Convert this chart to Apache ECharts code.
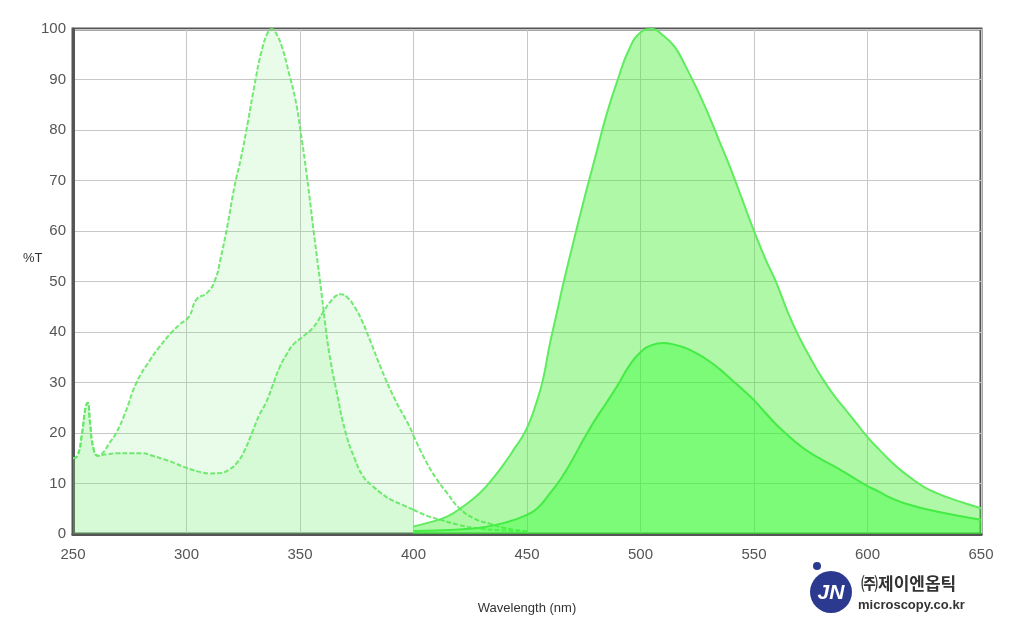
<!DOCTYPE html>
<html>
<head>
<meta charset="utf-8">
<style>html,body{margin:0;padding:0;background:#fff;}#c{width:1024px;height:622px;}</style>
<script src="https://cdn.jsdelivr.net/npm/echarts@6/dist/echarts.min.js"></script>
</head>
<body>
<div id="c"></div>
<script>
// Excitation spectrum 1 (peak ~337 nm)
var excitation1 = [[250,15],[252,15.5],[254,20],[255.5,25],[256.5,26],[257.5,22],[259,17],[261,15.5],[263,16],[266,18],[269,20],[273,24],[278,30],[284,34.5],[288,37],[293,39.7],[297,41.5],[301,43],[304.5,46.5],[309,47.7],[312.6,50.3],[315,54.5],[318,61],[321,68.5],[324,74.5],[327,81.5],[330,89],[333,95.5],[336,99.5],[337.5,100],[339,99.5],[342,96.5],[345,91.5],[348,86],[350,80.5],[353,71],[356,60],[359,49.5],[361,42],[363,35.5],[366,28.5],[370,20.3],[374,15],[378,11.3],[382,9.5],[386,8],[390,6.8],[395,5.8],[400,4.8],[406,3.6],[412,2.8],[420,1.8],[429,1.1],[440,0.7],[450,0.5]];
// Excitation spectrum 2 (peak ~367 nm)
var excitation2 = [[250,15],[252,15.5],[254,20],[255.5,25],[256.5,26],[257.5,22],[259,17],[261,15.5],[265,15.8],[270,16],[275,16],[280,16],[285,15.5],[290,14.8],[295,14],[300,13.1],[305,12.4],[310,12],[315,12.1],[319,12.8],[322,14],[325,16],[329,20.2],[332,23.5],[335,26],[338,29.5],[341,33],[344,35.5],[347,37.5],[351,39],[356,41],[360,43.8],[363,45.8],[366,47.2],[368,47.5],[371,46.8],[374,45],[377,42.5],[381,38.2],[386,32.5],[392,26.5],[398,21.5],[400,19.5],[405,14.8],[410,11],[415,8],[420,5.2],[427,3],[434,2],[440,1.2],[450,0.5]];
// Emission spectrum 1 (peak ~504 nm)
var emission1 = [[400,1.5],[407,2.3],[415,3.5],[422,5.5],[429,8],[435,11],[441,14.6],[445,17.3],[448,19.3],[451,22],[454,25.8],[457,30.5],[460,37.5],[463,43.5],[466,49.6],[470,57],[475,66],[480,74.5],[485,83],[490,90],[495,96],[500,99.3],[505,100],[510,98.7],[515,96.5],[520,92.5],[525,88],[530,83],[535,77.5],[540,72],[545,66],[550,60],[555,54.5],[560,49.6],[565,43.8],[570,38.9],[575,34.7],[580,30.9],[585,27.6],[590,24.8],[595,22],[600,19.2],[605,16.8],[610,14.5],[615,12.5],[620,10.8],[625,9.3],[630,8.2],[635,7.3],[640,6.5],[645,5.8],[650,5.1]];
// Emission spectrum 2 (peak ~511 nm)
var emission2 = [[400,0.6],[410,0.7],[420,0.9],[430,1.3],[440,2.2],[450,3.8],[455,5.3],[460,8],[465,11],[470,14.7],[475,18.8],[480,22.6],[485,26],[490,29.5],[495,33.3],[500,36],[505,37.4],[510,37.8],[515,37.5],[520,36.8],[525,35.7],[530,34.3],[535,32.6],[540,30.6],[545,28.6],[550,26.5],[555,24],[560,21.6],[565,19.5],[570,17.6],[575,16],[580,14.7],[585,13.5],[590,12.2],[595,10.8],[600,9.5],[605,8.4],[610,7.2],[615,6.3],[620,5.6],[625,5],[630,4.5],[640,3.6],[650,2.8]];
var xTicks = [250,300,350,400,450,500,550,600,650];
var yTicks = [0,10,20,30,40,50,60,70,80,90,100];

var fillEnd = 400;
function upTo(d){return d.filter(function(p){return p[0]<=fillEnd;});}
function from(d){return d.filter(function(p){return p[0]>=fillEnd;});}

var dash = [5,2];
var sm = 0.5;
var chart = echarts.init(document.getElementById('c'), null, {renderer:'canvas'});
function exSeries(name, d, area, color){
  return {name:name,type:'line',data:d,smooth:sm,symbol:'none',
    lineStyle:{color:color,width:2,type:dash},
    areaStyle: area ? {color:area, opacity:1, origin:'start'} : undefined, z:2};
}
var lblFont = 'Arial, "Liberation Sans"';
chart.setOption({
  animation:false,
  grid:{left:73,right:43,top:29,bottom:88,show:true,borderColor:'#555',borderWidth:3,backgroundColor:'transparent'},
  xAxis:{type:'value',min:250,max:650,interval:50,
    name:'Wavelength (nm)',nameLocation:'middle',nameGap:68,
    nameTextStyle:{color:'#333',fontSize:13,fontFamily:lblFont},
    axisLine:{show:true,lineStyle:{color:'#555',width:3}},
    axisTick:{show:false},
    axisLabel:{color:'#555',fontSize:15,margin:13,fontFamily:lblFont},
    splitLine:{show:true,lineStyle:{color:'#c8c8c8',width:1}}},
  yAxis:{type:'value',min:0,max:100,interval:10,
    axisLine:{show:true,lineStyle:{color:'#555',width:3}},
    axisTick:{show:false},
    axisLabel:{color:'#555',fontSize:15,margin:7,fontFamily:lblFont},
    splitLine:{show:true,lineStyle:{color:'#c8c8c8',width:1}}},
  series:[
    exSeries('Ex1', upTo(excitation1), 'rgba(110,235,110,0.15)', 'rgba(100,232,100,0.9)'),
    exSeries('Ex1b', from(excitation1), null, 'rgba(100,232,100,0.9)'),
    exSeries('Ex2', upTo(excitation2), 'rgba(110,235,110,0.15)', 'rgba(100,232,100,0.9)'),
    exSeries('Ex2b', from(excitation2), null, 'rgba(100,232,100,0.9)'),
    {name:'Em1',type:'line',data:emission1,smooth:sm,symbol:'none',
      lineStyle:{color:'#5fec5f',width:2},areaStyle:{color:'rgba(64,238,48,0.42)',opacity:1,origin:'start'},z:3},
    {name:'Em2',type:'line',data:emission2,smooth:sm,symbol:'none',
      lineStyle:{color:'#45ec45',width:2},areaStyle:{color:'rgba(40,255,40,0.39)',opacity:1,origin:'start'},z:4}
  ],
  graphic:[
    {type:'text',x:23,y:258,style:{text:'%T',fill:'#333',font:'13px Arial, "Liberation Sans"',verticalAlign:'middle'}},
    {type:'circle',shape:{cx:831,cy:592,r:21},style:{fill:'#2b3a8f'},z:10},
    {type:'circle',shape:{cx:817,cy:566,r:4},style:{fill:'#2b3a8f'},z:10},
    {type:'text',x:831,y:593,style:{text:'JN',fill:'#fff',font:'italic bold 21px Arial, "Liberation Sans"',align:'center',verticalAlign:'middle'},z:11},
    {type:'text',x:861,y:584,style:{text:'㈜제이엔옵틱',fill:'#333',font:'bold 17px "Noto Sans CJK KR"',verticalAlign:'middle'},z:10},
    {type:'text',x:858,y:605,style:{text:'microscopy.co.kr',fill:'#333',font:'bold 13px Arial, "Liberation Sans"',verticalAlign:'middle'},z:10}
  ]
});
</script>
</body>
</html>
